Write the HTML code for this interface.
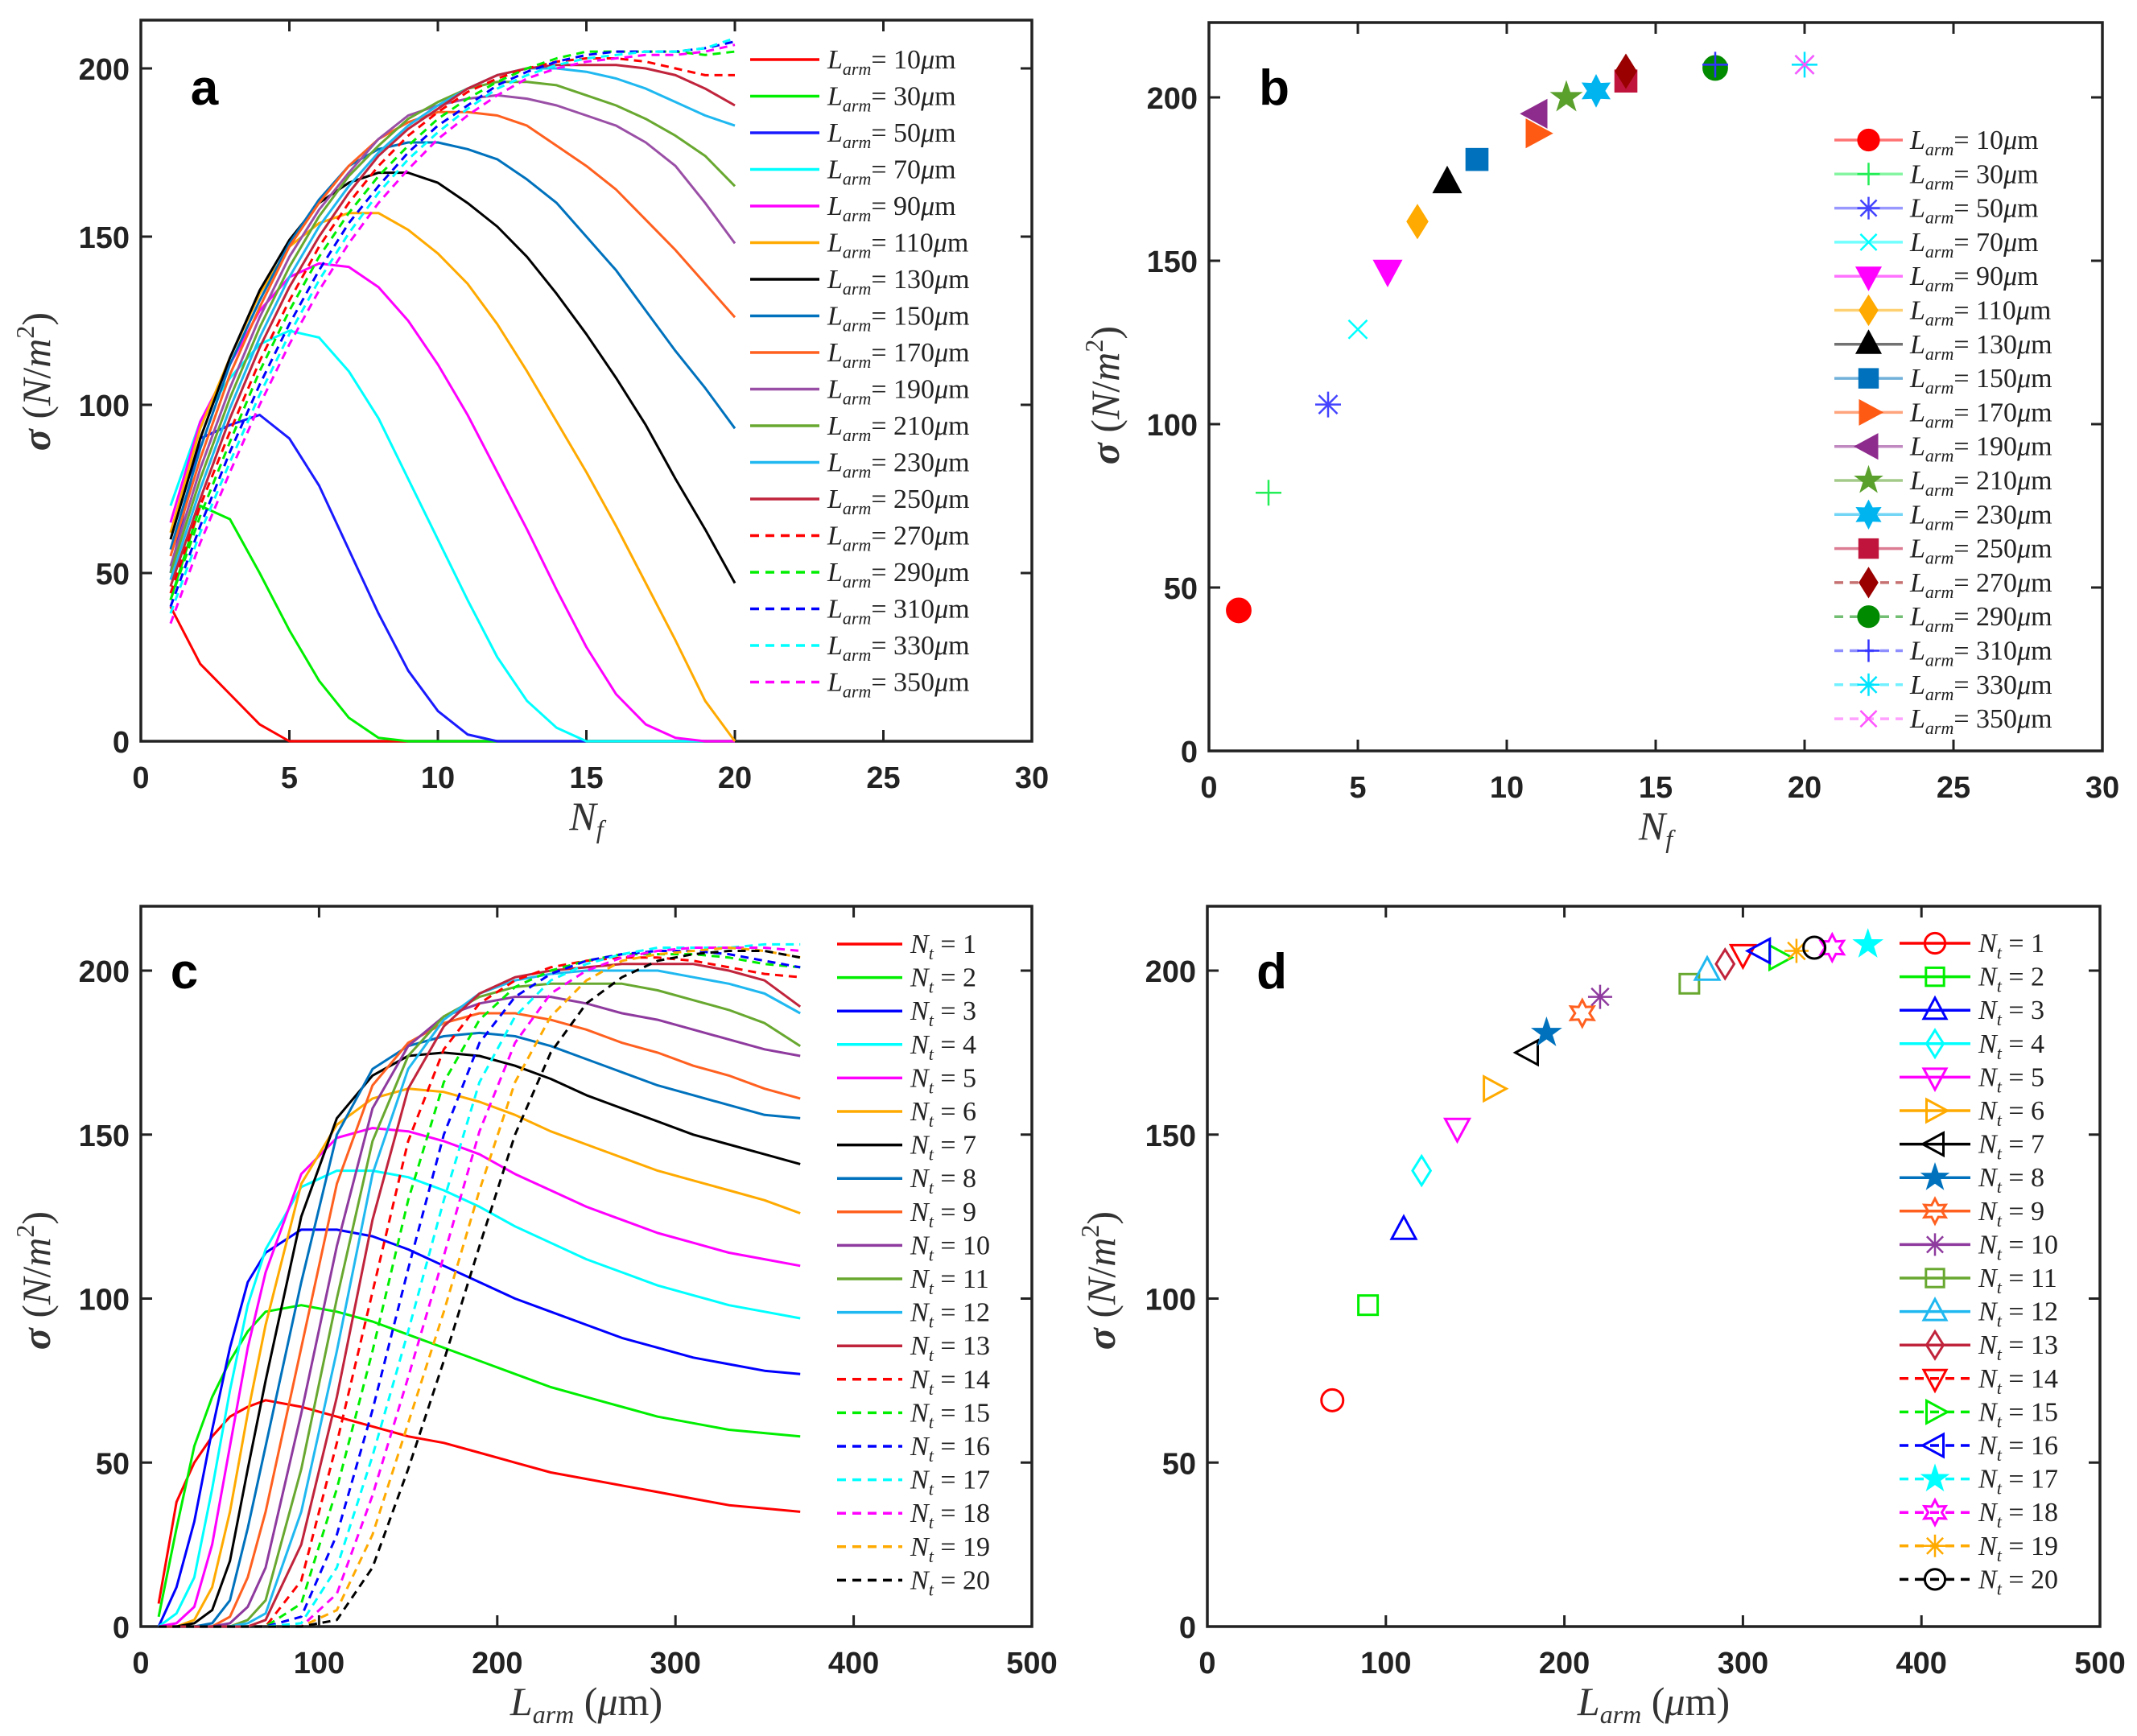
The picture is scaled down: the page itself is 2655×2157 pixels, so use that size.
<!DOCTYPE html>
<html><head><meta charset="utf-8"><style>
html,body{margin:0;padding:0;background:#fff;}
svg{display:block;}
text{font-family:"Liberation Sans",sans-serif;}
.serif{font-family:"Liberation Serif",serif;}
</style></head><body>
<svg id="chart" width="2655" height="2157" viewBox="0 0 2655 2157" xmlns="http://www.w3.org/2000/svg">
<rect width="2655" height="2157" fill="#fff"/>
</svg>
<script>
// ---------- Panel a data ----------
const nfA = [1,2,3,4,5,6,7,8,9,10,11,12,13,14,15,16,17,18,19,20];
const larmLabels = [10,30,50,70,90,110,130,150,170,190,210,230,250,270,290,310,330,350];
const a10 = [40,23,14,5,0,0,0,0,0,0,0,0,0,0,0,0,0,0,0,0];
const a30 = [42,70,66,50,33,18,7,1,0,0,0,0,0,0,0,0,0,0,0,0];
const a50 = [50,90,94,97,90,76,57,38,21,9,2,0,0,0,0,0,0,0,0,0];
const a70 = [70,95,108,118,122,120,110,96,78,60,42,25,12,4,0,0,0,0,0,0];
const a90 = [65,95,112,128,138,142,141,135,125,112,97,80,63,45,28,14,5,1,0,0];
const a110 = [62,93,114,133,147,154,157,157,152,145,136,124,110,95,80,64,47,30,12,0];
const a130 = [60,90,114,134,149,160,166,169,169,166,160,153,144,133,121,108,94,78,63,47];
const a150 = [57,87,112,131,148,161,171,176,178,178,176,173,167,160,150,140,128,116,105,93];
const a170 = [55,84,109,129,147,160,171,179,184,187,187,186,183,177,171,164,155,146,136,126];
const a190 = [52,81,105,126,144,158,169,179,186,189,191,192,191,189,186,183,178,171,160,148];
const a210 = [50,78,102,123,141,156,168,177,185,190,194,196,196,195,192,189,185,180,174,165];
const a230 = [48,75,99,120,138,153,165,175,183,189,194,198,200,200,199,197,194,190,186,183];
const a250 = [46,72,96,117,135,150,163,174,182,188,194,198,200,201,201,201,200,198,194,189];
const a270 = [44,70,92,113,131,147,160,171,180,187,193,197,200,202,203,203,202,200,198,198];
const a290 = [42,67,89,110,128,144,157,168,177,185,191,196,200,203,205,205,205,205,204,205];
const a310 = [40,64,86,106,124,140,154,165,175,183,189,195,199,202,204,205,205,205,206,208];
const a330 = [38,62,83,103,121,137,151,163,173,181,188,194,198,201,203,204,205,205,206,209];
const a350 = [35,59,80,100,118,134,148,160,170,179,186,192,197,200,202,203,204,204,205,207];
const seriesA = [a10,a30,a50,a70,a90,a110,a130,a150,a170,a190,a210,a230,a250,a270,a290,a310,a330,a350];

// ---------- Panel b data ----------
const nfB = [1,2,4,5,6,7,8,9,11,11,12,13,14,14,17,17,20,20];
const sigB = [43,79,106,129,147,162,174,181,189,195,200,202,205,208,209,210,210,210];

// ---------- Panel c data ----------
const larmC = [10,20,30,40,50,60,70,90,110,130,150,170,190,210,230,250,270,290,310,330,350,370];
const ntLabels = [1,2,3,4,5,6,7,8,9,10,11,12,13,14,15,16,17,18,19,20];
const c1 = [7,38,50,58,64,67,69,67,64,61,58,56,53,50,47,45,43,41,39,37,36,35];
const c2 = [3,30,55,70,81,90,96,98,96,93,89,85,81,77,73,70,67,64,62,60,59,58];
const c3 = [0,12,32,60,85,105,114,121,121,119,115,110,105,100,96,92,88,85,82,80,78,77];
const c4 = [0,4,15,42,72,98,115,134,139,139,137,133,128,122,117,112,108,104,101,98,96,94];
const c5 = [0,1,6,25,55,85,108,138,149,152,151,148,144,138,133,128,124,120,117,114,112,110];
const c6 = [0,0,2,12,35,65,92,135,153,161,164,163,160,156,151,147,143,139,136,133,130,126];
const c7 = [0,0,1,5,20,48,75,125,155,168,174,175,174,171,167,162,158,154,150,147,144,141];
const c8 = [0,0,0,1,8,30,55,105,150,170,177,180,181,180,177,173,169,165,162,159,156,155];
const c9 = [0,0,0,0,3,15,35,85,135,165,178,184,187,187,185,182,178,175,171,168,164,161];
const c10 = [0,0,0,0,1,6,18,65,116,158,177,186,190,192,192,190,187,185,182,179,176,174];
const c11 = [0,0,0,0,0,2,8,48,100,148,174,186,192,195,196,196,196,194,191,188,184,177];
const c12 = [0,0,0,0,0,1,4,35,84,138,170,185,193,197,199,200,200,200,198,196,193,187];
const c13 = [0,0,0,0,0,0,2,25,70,124,164,183,193,198,200,201,202,202,202,200,197,189];
const c14 = [0,0,0,0,0,0,0,14,56,102,148,176,190,197,201,203,204,204,203,201,199,198];
const c15 = [0,0,0,0,0,0,0,7,42,84,130,166,185,195,200,203,205,205,205,204,202,201];
const c16 = [0,0,0,0,0,0,0,3,28,66,109,150,178,192,199,203,205,206,206,205,203,201];
const c17 = [0,0,0,0,0,0,0,1,18,52,90,130,166,186,197,202,205,207,207,207,208,208];
const c18 = [0,0,0,0,0,0,0,0,10,40,76,113,151,178,193,200,204,206,207,207,207,206];
const c19 = [0,0,0,0,0,0,0,0,5,28,62,96,133,166,186,197,203,205,206,207,206,204];
const c20 = [0,0,0,0,0,0,0,0,2,18,48,81,116,150,175,190,198,203,205,206,206,204];
const seriesC = [c1,c2,c3,c4,c5,c6,c7,c8,c9,c10,c11,c12,c13,c14,c15,c16,c17,c18,c19,c20];

// ---------- Panel d data ----------
const larmD = [70,90,110,120,140,160,180,190,210,220,270,280,290,300,320,310,370,350,330,340];
const sigD = [69,98,121,139,152,164,175,181,187,192,196,200,202,205,204,206,208,207,206,207];

// ---------- styles (not data) ----------
const colA = ['#ff0000','#00ee00','#1a1aff','#00ffff','#ff00ff','#ffaa00','#000000','#0072bd','#ff6020','#9a4fa6','#68a830','#20b8f0','#c0243c','#ff0000','#00ee00','#0000ff','#00ffff','#ff00ff'];
const colB = ['#ff0000','#22ee55','#4444ff','#00ffff','#ff00ff','#ffaa00','#000000','#0072bd','#ff5a14','#8e2c8e','#5aa02c','#00b4f0','#c0143c','#9a0000','#008a00','#3333ff','#00e5ff','#ff55ff'];
const mkB = ['o','+','*','x','v','d','^','s','>','<','p','h','s','d','o','+','*','x'];
const colC = ['#ff0000','#00ee00','#0000ff','#00ffff','#ff00ff','#ffaa00','#000000','#0072bd','#ff6020','#8e3a9e','#68a830','#20b8f0','#c0243c','#ff0000','#00ee00','#0000ff','#00ffff','#ff00ff','#ffaa00','#000000'];
const mkD = ['o','s','^','d','v','>','<','p','h','*','s','^','d','v','>','<','p','h','*','o'];

const NS='http://www.w3.org/2000/svg';
const svg=document.getElementById('chart');
function el(tag, attrs, parent){const e=document.createElementNS(NS,tag);for(const k in attrs)e.setAttribute(k,attrs[k]);(parent||svg).appendChild(e);return e;}

const panels = {
  a:{L:175,R:1282,B:921,Y200:85,T:25,xmax:30,xstep:5},
  b:{L:1502,R:2612,B:933,Y200:121,T:28,xmax:30,xstep:5},
  c:{L:175,R:1282,B:2021,Y200:1206,T:1126,xmax:500,xstep:100},
  d:{L:1500,R:2609,B:2021,Y200:1206,T:1126,xmax:500,xstep:100}
};
function sx(p,v){return p.L+v/p.xmax*(p.R-p.L);}
function sy(p,v){return p.B-v/200*(p.B-p.Y200);}

function drawAxes(key, p, xTitleHTML, letterPos, ylabPos){
  const g=el('g',{});
  
  
  const fr=el('rect',{x:p.L,y:p.T,width:p.R-p.L,height:p.B-p.T,fill:'none',stroke:'#222',"stroke-width":3.5},g);
  
  
  for(let v=0; v<=p.xmax; v+=p.xstep){
    const x=sx(p,v);
    const t1=el('line',{x1:x,y1:p.B,x2:x,y2:p.B-14,stroke:'#222','stroke-width':3},g);
    
    
    const t2=el('line',{x1:x,y1:p.T,x2:x,y2:p.T+14,stroke:'#222','stroke-width':3},g);
    
    
    const tl=el('text',{x:x,y:p.B+58,'text-anchor':'middle','font-size':38,'font-weight':'bold',fill:'#222'},g);
    tl.textContent=String(v);
    
    
  }
  for(let v=0; v<=200; v+=50){
    const y=sy(p,v);
    const t1=el('line',{x1:p.L,y1:y,x2:p.L+14,y2:y,stroke:'#222','stroke-width':3},g);
    
    
    const t2=el('line',{x1:p.R,y1:y,x2:p.R-14,y2:y,stroke:'#222','stroke-width':3},g);
    
    
    const tl=el('text',{x:p.L-14,y:y+14,'text-anchor':'end','font-size':38,'font-weight':'bold',fill:'#222'},g);
    tl.textContent=String(v);
    
    
  }
  const xt=el('text',{x:(p.L+p.R)/2,y:p.B+110,'text-anchor':'middle','font-size':50,fill:'#333',class:'serif','font-style':'italic'},g);
  xt.innerHTML=xTitleHTML;
  
  
  const yt=el('text',{x:ylabPos[0],y:ylabPos[1],'text-anchor':'middle','font-size':50,fill:'#333',class:'serif',transform:'rotate(-90 '+ylabPos[0]+' '+ylabPos[1]+')'},g);
  yt.innerHTML='<tspan font-style="italic" font-weight="bold">σ</tspan> (<tspan font-style="italic">N</tspan>/<tspan font-style="italic">m</tspan><tspan font-size="32" dy="-20">2</tspan><tspan dy="20">)</tspan>';
  
  
  const lt=el('text',{x:letterPos[0],y:letterPos[1],'text-anchor':'middle','font-size':62,'font-weight':'bold',fill:'#000'},g);
  lt.textContent=key;
  
  
}

function marker(type,x,y,r,color,filled,parent){
  const fill = filled ? color : 'none';
  const sw = 3;
  let e;
  const pts = arr => arr.map(a=>(x+a[0]*r).toFixed(1)+','+(y+a[1]*r).toFixed(1)).join(' ');
  if(type==='o') e=el('circle',{cx:x,cy:y,r:r*0.9,fill:fill,stroke:color,'stroke-width':sw},parent);
  else if(type==='s') e=el('rect',{x:x-r*0.8,y:y-r*0.8,width:r*1.6,height:r*1.6,fill:fill,stroke:color,'stroke-width':sw},parent);
  else if(type==='^') e=el('polygon',{points:pts([[0,-1.1],[1,0.75],[-1,0.75]]),fill:fill,stroke:color,'stroke-width':sw},parent);
  else if(type==='v') e=el('polygon',{points:pts([[0,1.1],[1,-0.75],[-1,-0.75]]),fill:fill,stroke:color,'stroke-width':sw},parent);
  else if(type==='>') e=el('polygon',{points:pts([[1.1,0],[-0.75,1],[-0.75,-1]]),fill:fill,stroke:color,'stroke-width':sw},parent);
  else if(type==='<') e=el('polygon',{points:pts([[-1.1,0],[0.75,1],[0.75,-1]]),fill:fill,stroke:color,'stroke-width':sw},parent);
  else if(type==='d') e=el('polygon',{points:pts([[0,-1.2],[0.75,0],[0,1.2],[-0.75,0]]),fill:fill,stroke:color,'stroke-width':sw},parent);
  else if(type==='p'){const a=[];for(let i=0;i<10;i++){const ang=-Math.PI/2+i*Math.PI/5;const rr=i%2?0.45:1.15;a.push([Math.cos(ang)*rr,Math.sin(ang)*rr]);}
    e=el('polygon',{points:pts(a),fill:fill,stroke:color,'stroke-width':2},parent);}
  else if(type==='h'){const a=[];for(let i=0;i<12;i++){const ang=-Math.PI/2+i*Math.PI/6;const rr=i%2?0.6:1.1;a.push([Math.cos(ang)*rr,Math.sin(ang)*rr]);}
    e=el('polygon',{points:pts(a),fill:fill,stroke:color,'stroke-width':sw},parent);}
  else {
    let d='';
    if(type==='+'||type==='*') d+=`M${x-r},${y}H${x+r}M${x},${y-r}V${y+r}`;
    if(type==='x'||type==='*'){const k=r*0.72;d+=`M${x-k},${y-k}L${x+k},${y+k}M${x-k},${y+k}L${x+k},${y-k}`;}
    e=el('path',{d:d,fill:'none',stroke:color,'stroke-width':2.5},parent);
  }
  return e;
}

// axes
drawAxes('a',panels.a,'N<tspan font-size="32" dy="10">f</tspan>',[254,130],[62,474]);
drawAxes('b',panels.b,'N<tspan font-size="32" dy="10">f</tspan>',[1583,130],[1390,491]);
drawAxes('c',panels.c,'L<tspan font-size="32" dy="10">arm</tspan><tspan font-style="normal" dy="-10"> (</tspan>μ<tspan font-style="normal">m)</tspan>',[229,1228],[62,1591]);
drawAxes('d',panels.d,'L<tspan font-size="32" dy="10">arm</tspan><tspan font-style="normal" dy="-10"> (</tspan>μ<tspan font-style="normal">m)</tspan>',[1580,1228],[1385,1591]);

// panel a lines
const gA=el('g',{});


seriesA.forEach((s,i)=>{
  const p=panels.a;
  const d=s.map((v,j)=>(j?'L':'M')+sx(p,nfA[j]).toFixed(1)+','+sy(p,v).toFixed(1)).join('');
  const ln=el('path',{d:d,fill:'none',stroke:colA[i],'stroke-width':3,'stroke-dasharray':i>=13?'10,7':'none','stroke-linejoin':'round'},gA);
  
  
});
// panel c lines
const gC=el('g',{});


seriesC.forEach((s,i)=>{
  const p=panels.c;
  const d=s.map((v,j)=>(j?'L':'M')+sx(p,larmC[j]).toFixed(1)+','+sy(p,v).toFixed(1)).join('');
  const ln=el('path',{d:d,fill:'none',stroke:colC[i],'stroke-width':3,'stroke-dasharray':i>=13?'10,7':'none','stroke-linejoin':'round'},gC);
  
  
});
// panel b markers
const gB=el('g',{});


nfB.forEach((v,i)=>{
  const p=panels.b;
  const filled = !['+','*','x'].includes(mkB[i]);
  const m=marker(mkB[i],sx(p,v),sy(p,sigB[i]),16,colB[i],filled,gB);
  
  
});
// panel d markers
const gD=el('g',{});


larmD.forEach((v,i)=>{
  const p=panels.d;
  const filled = mkD[i]==='p';
  const m=marker(mkD[i],sx(p,v),sy(p,sigD[i]),15,colC[i],filled,gD);
  
  
});

// legends
function larmText(v){return '<tspan font-style="italic">L</tspan><tspan font-style="italic" font-size="22" dy="8">arm</tspan><tspan dy="-8">= '+v+'</tspan><tspan font-style="italic">μ</tspan>m';}
function ntText(v){return '<tspan font-style="italic">N</tspan><tspan font-style="italic" font-size="22" dy="8">t</tspan><tspan dy="-8"> = '+v+'</tspan>';}
function legend(key,labels,x1,x2,tx,y0,step,colors,htmlFn,mk,mkFilled,lineOpacity){
  const g=el('g',{});
  
  
  labels.forEach((v,i)=>{
    const y=y0+i*step;
    const ln=el('line',{x1:x1,y1:y,x2:x2,y2:y,stroke:colors[i],'stroke-width':3.5,'stroke-dasharray':i>=13?'11,8':'none',opacity:lineOpacity},g);
    
    
    if(mk){const m=marker(mk[i],(x1+x2)/2,y,14,colors[i],mkFilled(mk[i]),g);
      
      }
    const t=el('text',{x:tx,y:y+11,'font-size':34,fill:'#222',class:'serif'},g);
    t.innerHTML=htmlFn(v);
    
    
  });
}
legend('a',larmLabels,932,1018,1028,74,45.5,colA,larmText,null,null,1);
legend('b',larmLabels,2279,2364,2373,174,42.3,colB,larmText,mkB,t=>!['+','*','x'].includes(t),0.55);
legend('c',ntLabels,1040,1121,1131,1173,41.6,colC,ntText,null,null,1);
legend('d',ntLabels,2360,2448,2458,1172,41.6,colC,ntText,mkD,t=>t==='p',1);
</script>
</body></html>
